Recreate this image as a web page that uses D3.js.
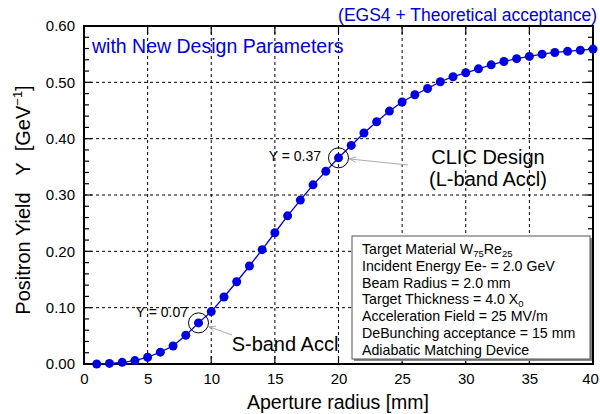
<!DOCTYPE html>
<html><head><meta charset="utf-8">
<script src="https://cdn.jsdelivr.net/npm/d3@7"></script>
<style>body{margin:0;background:#fff}svg{display:block}text{font-family:"Liberation Sans",Arial,sans-serif}</style>
</head><body>
<svg id="c" width="600" height="414"></svg>
<script>
const radius = [1,2,3,4,5,6,7,8,9,10,11,12,13,14,15,16,17,18,19,20,21,22,23,24,25,26,27,28,29,30,31,32,33,34,35,36,37,38,39,40];
const yieldVals = [0.000,0.001,0.003,0.006,0.012,0.021,0.032,0.051,0.073,0.093,0.119,0.146,0.174,0.203,0.233,0.263,0.291,0.318,0.342,0.366,0.388,0.410,0.430,0.449,0.465,0.478,0.489,0.501,0.510,0.517,0.524,0.531,0.537,0.542,0.546,0.550,0.553,0.555,0.557,0.559];
const xTicks = [0,5,10,15,20,25,30,35,40];
const yTicks = [0,0.1,0.2,0.3,0.4,0.5,0.6];
const legendLines = [
  ["Target Material W","75","Re","25"],
  ["Incident Energy Ee- = 2.0 GeV"],
  ["Beam Radius = 2.0 mm"],
  ["Target Thickness = 4.0 X","0"],
  ["Acceleration Field = 25 MV/m"],
  ["DeBunching acceptance = 15 mm"],
  ["Adiabatic Matching Device"]
];
const blue = "#0000e0";
const svg = d3.select("#c");
const L=84, R=593, T=26, B=364;
const x = d3.scaleLinear().domain([0,40]).range([L,R]);
const y = d3.scaleLinear().domain([0,0.6]).range([B,T]);

// grid
const g = svg.append("g");
g.selectAll(".vg").data(xTicks.filter(d=>d>0&&d<40)).enter().append("line")
  .attr("x1",d=>x(d)).attr("x2",d=>x(d)).attr("y1",T).attr("y2",B)
  .attr("stroke","#000").attr("stroke-width",1).attr("stroke-dasharray","3,3");
g.selectAll(".hg").data(yTicks.filter(d=>d>0&&d<0.6)).enter().append("line")
  .attr("x1",L).attr("x2",R).attr("y1",d=>y(d)).attr("y2",d=>y(d))
  .attr("stroke","#000").attr("stroke-width",1).attr("stroke-dasharray","3,3");

// axes
const fmt = d3.format(".2f");
const yl = svg.append("g").attr("transform",`translate(${L},0)`)
  .call(d3.axisLeft(y).tickValues(yTicks).tickFormat(fmt).tickSize(0).tickPadding(9));
yl.select(".domain").remove();
yl.selectAll("text").attr("font-size",15).attr("fill","#000");
const xl = svg.append("g").attr("transform",`translate(0,${B})`)
  .call(d3.axisBottom(x).tickValues(xTicks).tickSize(0).tickPadding(9));
xl.select(".domain").remove();
xl.selectAll("text").attr("font-size",15).attr("fill","#000")
  .attr("dx",d=>d===40?-3:0);

// inward ticks
const minorY = d3.range(0,0.601,0.02);
const tk = svg.append("g").attr("stroke","#000").attr("stroke-width",1.2);
minorY.forEach(v=>{
  const major = Math.abs(v*10-Math.round(v*10))<1e-6;
  const len = major?8:5;
  tk.append("line").attr("x1",L).attr("x2",L+len).attr("y1",y(v)).attr("y2",y(v));
  tk.append("line").attr("x1",R).attr("x2",R-len).attr("y1",y(v)).attr("y2",y(v));
});
xTicks.forEach(v=>{
  tk.append("line").attr("x1",x(v)).attr("x2",x(v)).attr("y1",B).attr("y2",B-8);
  tk.append("line").attr("x1",x(v)).attr("x2",x(v)).attr("y1",T).attr("y2",T+8);
});

// frame
svg.append("rect").attr("x",L).attr("y",T).attr("width",R-L).attr("height",B-T)
  .attr("fill","none").attr("stroke","#000").attr("stroke-width",2);

// data
const pts = radius.map((r,i)=>[r,yieldVals[i]]);
svg.append("path").datum(pts)
  .attr("d",d3.line().x(d=>x(d[0])).y(d=>y(d[1])))
  .attr("fill","none").attr("stroke",blue).attr("stroke-width",1.3);
svg.selectAll(".pt").data(pts).enter().append("circle")
  .attr("cx",d=>x(d[0])).attr("cy",d=>y(d[1])).attr("r",4.5).attr("fill",blue);

// annotations
function annot(ix, label, lx, ly, arrowFrom, texts, tx, ty){
  const cx = x(radius[ix]), cy = y(yieldVals[ix]);
  svg.append("circle").attr("cx",cx).attr("cy",cy).attr("r",10)
    .attr("fill","none").attr("stroke","#000").attr("stroke-width",1);
  svg.append("text").attr("x",lx).attr("y",ly).attr("font-size",14).attr("text-anchor","end").text(label);
  const ang = Math.atan2(arrowFrom[1]-cy, arrowFrom[0]-cx);
  const ex = cx+11*Math.cos(ang), ey = cy+11*Math.sin(ang);
  svg.append("line").attr("x1",arrowFrom[0]).attr("y1",arrowFrom[1]).attr("x2",ex).attr("y2",ey)
    .attr("stroke","#aaa").attr("stroke-width",1);
  const a1 = ang+0.4, a2 = ang-0.4;
  svg.append("path").attr("d",`M${ex+7*Math.cos(a1)},${ey+7*Math.sin(a1)}L${ex},${ey}L${ex+7*Math.cos(a2)},${ey+7*Math.sin(a2)}`)
    .attr("fill","none").attr("stroke","#aaa").attr("stroke-width",1);
  texts.forEach((t,i)=>svg.append("text").attr("x",tx).attr("y",ty+i*22).attr("font-size",20).attr("text-anchor","middle").text(t));
}
annot(19,"Y = 0.37",321,161,[408,165],["CLIC Design","(L-band Accl)"],488,164);
annot(8,"Y = 0.07",188,317,[232,335],["S-band Accl"],285,351);

// legend box
svg.append("rect").attr("x",354).attr("y",238).attr("width",238).attr("height",123).attr("fill","#888");
svg.append("rect").attr("x",352).attr("y",236).attr("width",238).attr("height",123).attr("fill","#fff").attr("stroke","#555").attr("stroke-width",1);
const ly0 = [254,271,288,304,321,338,355];
legendLines.forEach((parts,i)=>{
  const t = svg.append("text").attr("x",362).attr("y",ly0[i]).attr("font-size",14.2);
  parts.forEach((p,j)=>{
    const sub = (i===0 && (j===1||j===3)) || (i===3 && j===1);
    const ts = t.append("tspan").text(p);
    if(sub){ ts.attr("font-size",9.5).attr("dy",3); }
    else if(j>0){ ts.attr("dy",-3); }
  });
});

// titles
svg.append("text").attr("x",597).attr("y",21).attr("text-anchor","end").attr("font-size",17.5).attr("fill",blue).text("(EGS4 + Theoretical acceptance)");
svg.append("text").attr("x",92).attr("y",53).attr("font-size",19.5).attr("fill",blue).text("with New Design Parameters");
svg.append("text").attr("x",338).attr("y",409).attr("text-anchor","middle").attr("font-size",19.5).text("Aperture radius [mm]");
const yt = svg.append("text").attr("transform","translate(30,200) rotate(-90)").attr("text-anchor","middle").attr("font-size",20).attr("xml:space","preserve").style("white-space","pre");
yt.append("tspan").text("Positron Yield\u00a0\u00a0\u00a0Y\u00a0\u00a0[GeV");
yt.append("tspan").attr("font-size",13).attr("dy",-8).text("\u22121");
yt.append("tspan").attr("dy",8).text("]");
</script>
</body></html>
